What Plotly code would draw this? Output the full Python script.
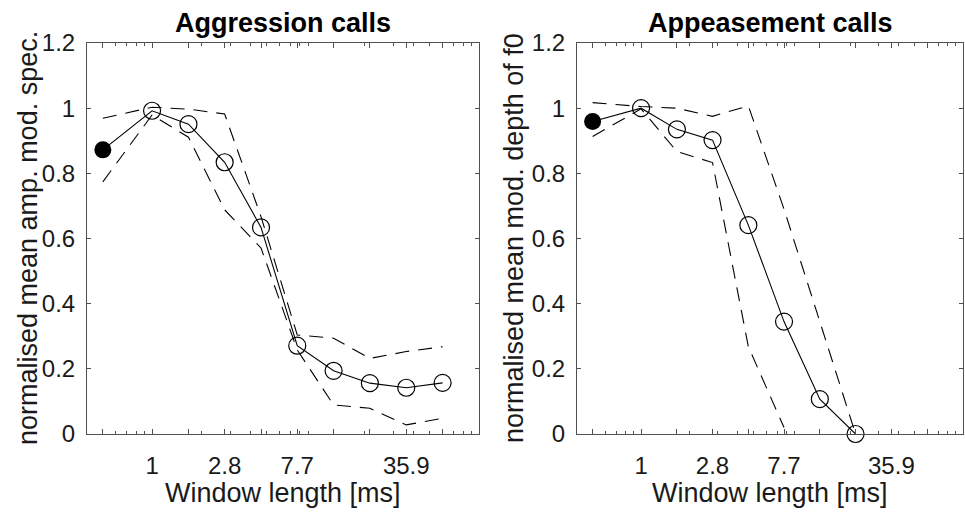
import plotly.graph_objects as go

# ---------------- data ----------------
window_ms = [0.5, 1, 1.67, 2.78, 4.64, 7.73, 12.9, 21.5, 35.9, 59.9]
tick_text = ["", "1", "", "2.8", "", "7.7", "", "", "35.9", ""]
minor_vals = [0.6, 0.7, 0.8, 0.9, 2, 3, 4, 5, 6, 7, 8, 9,
              20, 30, 40, 50, 60, 70, 80, 90]

aggr_mean = [0.872, 0.992, 0.951, 0.834, 0.634, 0.271, 0.194, 0.156, 0.142, 0.157]
aggr_upper = [0.969, 1.003, 0.997, 0.982, 0.667, 0.304, 0.294, 0.232, 0.253, 0.268]
aggr_lower = [0.774, 0.979, 0.911, 0.688, 0.571, 0.258, 0.089, 0.079, 0.028, 0.048]

app_x = window_ms[:8]
app_mean = [0.959, 1.0, 0.935, 0.902, 0.641, 0.345, 0.107, 0.0]
app_upper = [1.017, 1.005, 1.0, 0.975, 1.007, 0.69, 0.345, 0.0]
app_lower = [0.913, 0.998, 0.867, 0.833, 0.268, 0.02, None, None]

y_ticks = [0, 0.2, 0.4, 0.6, 0.8, 1.0, 1.2]
y_tick_text = ["0", "0.2", "0.4", "0.6", "0.8", "1", "1.2"]

titles = ["Aggression calls", "Appeasement calls"]
y_titles = ["normalised mean amp. mod. spec.", "normalised mean mod. depth of f0"]
x_title = "Window length [ms]"

# ---------------- figure ----------------
W, H = 965, 514
FONT = "Liberation Sans, Arial, sans-serif"
AX = "#505050"

fig = go.Figure()

def add_panel(xs, mean, upper, lower, xa, ya):
    dash = "14px,9px"
    fig.add_trace(go.Scatter(x=xs, y=upper, mode="lines", xaxis=xa, yaxis=ya,
                             line=dict(color="black", width=1.1, dash=dash),
                             connectgaps=False, showlegend=False))
    fig.add_trace(go.Scatter(x=xs, y=lower, mode="lines", xaxis=xa, yaxis=ya,
                             line=dict(color="black", width=1.1, dash=dash),
                             connectgaps=False, showlegend=False))
    fig.add_trace(go.Scatter(x=xs, y=mean, mode="lines", xaxis=xa, yaxis=ya,
                             line=dict(color="black", width=1.1), showlegend=False))
    fig.add_trace(go.Scatter(x=xs[1:], y=mean[1:], mode="markers", xaxis=xa, yaxis=ya,
                             marker=dict(symbol="circle-open", size=17, color="black",
                                         line=dict(width=1.2, color="black")),
                             cliponaxis=False, showlegend=False))
    fig.add_trace(go.Scatter(x=xs[:1], y=mean[:1], mode="markers", xaxis=xa, yaxis=ya,
                             marker=dict(symbol="circle", size=17, color="black"),
                             cliponaxis=False, showlegend=False))

add_panel(window_ms, aggr_mean, aggr_upper, aggr_lower, "x", "y")
add_panel(app_x, app_mean, app_upper, app_lower, "x2", "y2")

x_dom = [[87 / W, 479 / W], [577 / W, 963 / W]]
y_dom = [1 - 434 / H, 1 - 43 / H]

def xaxis(i):
    return dict(type="log", domain=x_dom[i], range=[-0.398, 2.0],
                tickmode="array", tickvals=window_ms, ticktext=tick_text,
                ticks="inside", ticklen=5, tickwidth=1, tickcolor=AX,
                minor=dict(tickmode="array", tickvals=minor_vals, ticks="inside",
                           ticklen=3, tickwidth=1, tickcolor=AX),
                showline=True, linecolor=AX, linewidth=1, mirror="allticks",
                showgrid=False, zeroline=False,
                tickfont=dict(family=FONT, size=24, color="#1a1a1a"),
                ticklabelstandoff=10,
                anchor="y" if i == 0 else "y2", fixedrange=True)

def yaxis(i):
    return dict(domain=y_dom, range=[0, 1.2],
                tickmode="array", tickvals=y_ticks, ticktext=y_tick_text,
                ticks="inside", ticklen=4, tickwidth=1, tickcolor=AX,
                showline=True, linecolor=AX, linewidth=1, mirror="allticks",
                showgrid=False, zeroline=False,
                tickfont=dict(family=FONT, size=24, color="#1a1a1a"),
                ticklabelstandoff=6,
                anchor="x" if i == 0 else "x2", fixedrange=True)

fig.update_layout(
    width=W, height=H,
    margin=dict(l=0, r=0, t=0, b=0, autoexpand=False),
    paper_bgcolor="white", plot_bgcolor="white",
    showlegend=False,
    xaxis=xaxis(0), yaxis=yaxis(0),
    xaxis2=xaxis(1), yaxis2=yaxis(1),
)

ann = []
centers = [(87 + 479) / 2, (577 + 963) / 2]
ytitle_x = [28, 514]
for i in range(2):
    ann.append(dict(text="<b>" + titles[i] + "</b>", x=centers[i] / W, y=1 - 23 / H,
                    xref="paper", yref="paper", xanchor="center", yanchor="middle",
                    showarrow=False, font=dict(family=FONT, size=27, color="black")))
    ann.append(dict(text=x_title, x=centers[i] / W, y=1 - 493 / H,
                    xref="paper", yref="paper", xanchor="center", yanchor="middle",
                    showarrow=False, font=dict(family=FONT, size=27, color="#1a1a1a")))
    ann.append(dict(text=y_titles[i], x=ytitle_x[i] / W, y=1 - 238 / H, textangle=-90,
                    xref="paper", yref="paper", xanchor="center", yanchor="middle",
                    showarrow=False, font=dict(family=FONT, size=27, color="#1a1a1a")))
fig.update_layout(annotations=ann)

fig.write_html("out.html", config={"displayModeBar": False})
